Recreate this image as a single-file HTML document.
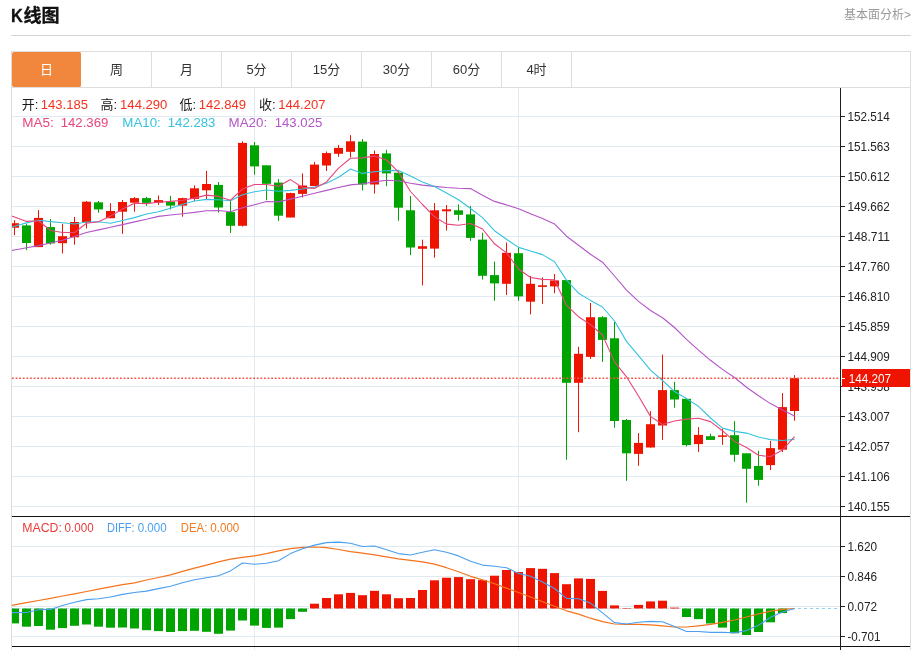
<!DOCTYPE html>
<html lang="zh-CN"><head><meta charset="utf-8"><title>K线图</title>
<style>
html,body{margin:0;padding:0;background:#fff;}
body{width:919px;height:650px;position:relative;overflow:hidden;font-family:"Liberation Sans","Noto Sans CJK SC",sans-serif;}
.title{position:absolute;left:11px;top:4px;font-size:18px;font-weight:bold;color:#111;-webkit-text-stroke:0.35px #111;line-height:24px;white-space:nowrap;}
.title b{display:inline-block;font-size:19px;width:12.4px;transform:scaleX(.86);transform-origin:0 50%;}
.more{position:absolute;right:8px;top:6px;font-size:12px;color:#999;line-height:18px;white-space:nowrap;}
.hr{position:absolute;left:11px;top:35px;width:900px;height:1px;background:#d4d4d4;}
.box{position:absolute;left:11px;top:51px;width:898px;height:620px;border:1px solid #ddd;}
.tabs{position:absolute;left:11px;top:87px;width:900px;height:1px;background:#ddd;}
.tab{position:absolute;top:52px;width:69px;height:35px;border-right:1px solid #ddd;text-align:center;line-height:35px;font-size:13px;color:#333;}
.tab.on{background:#f0873c;color:#fff;border-radius:2px;border-right-color:#fff;}
</style></head><body>
<div class="title"><b>K</b>线图</div>
<div class="more">基本面分析&gt;</div>
<div class="hr"></div>
<div class="box"></div>
<div class="tabs"></div>
<div class="tab on" style="left:12px">日</div><div class="tab" style="left:82px">周</div><div class="tab" style="left:152px">月</div><div class="tab" style="left:222px">5分</div><div class="tab" style="left:292px">15分</div><div class="tab" style="left:362px">30分</div><div class="tab" style="left:432px">60分</div><div class="tab" style="left:502px">4时</div>
<svg width="919" height="650" viewBox="0 0 919 650" style="position:absolute;left:0;top:0" font-family="'Liberation Sans','Noto Sans CJK SC',sans-serif">
<defs><clipPath id="cp"><rect x="12" y="88" width="828" height="562"/></clipPath></defs>
<line x1="12" y1="116.5" x2="840" y2="116.5" stroke="#dfeaf1" stroke-width="1"/>
<line x1="12" y1="146.5" x2="840" y2="146.5" stroke="#dfeaf1" stroke-width="1"/>
<line x1="12" y1="176.5" x2="840" y2="176.5" stroke="#dfeaf1" stroke-width="1"/>
<line x1="12" y1="206.5" x2="840" y2="206.5" stroke="#dfeaf1" stroke-width="1"/>
<line x1="12" y1="236.5" x2="840" y2="236.5" stroke="#dfeaf1" stroke-width="1"/>
<line x1="12" y1="266.5" x2="840" y2="266.5" stroke="#dfeaf1" stroke-width="1"/>
<line x1="12" y1="296.5" x2="840" y2="296.5" stroke="#dfeaf1" stroke-width="1"/>
<line x1="12" y1="326.5" x2="840" y2="326.5" stroke="#dfeaf1" stroke-width="1"/>
<line x1="12" y1="356.5" x2="840" y2="356.5" stroke="#dfeaf1" stroke-width="1"/>
<line x1="12" y1="386.5" x2="840" y2="386.5" stroke="#dfeaf1" stroke-width="1"/>
<line x1="12" y1="416.5" x2="840" y2="416.5" stroke="#dfeaf1" stroke-width="1"/>
<line x1="12" y1="446.5" x2="840" y2="446.5" stroke="#dfeaf1" stroke-width="1"/>
<line x1="12" y1="476.5" x2="840" y2="476.5" stroke="#dfeaf1" stroke-width="1"/>
<line x1="12" y1="506.5" x2="840" y2="506.5" stroke="#dfeaf1" stroke-width="1"/>
<line x1="12" y1="546.5" x2="840" y2="546.5" stroke="#dfeaf1" stroke-width="1"/>
<line x1="12" y1="576.5" x2="840" y2="576.5" stroke="#dfeaf1" stroke-width="1"/>
<line x1="12" y1="606.5" x2="840" y2="606.5" stroke="#dfeaf1" stroke-width="1"/>
<line x1="12" y1="636.5" x2="840" y2="636.5" stroke="#dfeaf1" stroke-width="1"/>
<line x1="254.5" y1="88" x2="254.5" y2="650" stroke="#dfeaf1" stroke-width="1"/>
<line x1="518.5" y1="88" x2="518.5" y2="650" stroke="#dfeaf1" stroke-width="1"/>
<g clip-path="url(#cp)">
<rect x="14.0" y="220.2" width="1" height="15.0" fill="#ee1400"/>
<rect x="10.0" y="223.2" width="9" height="4.5" fill="#ee1400"/>
<rect x="26.0" y="223.8" width="1" height="26.3" fill="#00a400"/>
<rect x="22.0" y="225.4" width="9" height="17.6" fill="#00a400"/>
<rect x="38.0" y="210.1" width="1" height="37.0" fill="#ee1400"/>
<rect x="34.0" y="217.9" width="9" height="29.2" fill="#ee1400"/>
<rect x="50.0" y="219.0" width="1" height="25.7" fill="#00a400"/>
<rect x="46.0" y="227.1" width="9" height="16.3" fill="#00a400"/>
<rect x="62.0" y="223.8" width="1" height="29.6" fill="#ee1400"/>
<rect x="58.0" y="236.2" width="9" height="7.0" fill="#ee1400"/>
<rect x="74.0" y="216.9" width="1" height="27.8" fill="#ee1400"/>
<rect x="70.0" y="222.0" width="9" height="15.3" fill="#ee1400"/>
<rect x="86.0" y="201.0" width="1" height="27.4" fill="#ee1400"/>
<rect x="82.0" y="201.7" width="9" height="20.8" fill="#ee1400"/>
<rect x="98.0" y="201.0" width="1" height="11.7" fill="#00a400"/>
<rect x="94.0" y="202.3" width="9" height="7.1" fill="#00a400"/>
<rect x="110.0" y="203.2" width="1" height="15.0" fill="#ee1400"/>
<rect x="106.0" y="211.0" width="9" height="7.2" fill="#ee1400"/>
<rect x="122.0" y="200.0" width="1" height="33.9" fill="#ee1400"/>
<rect x="118.0" y="202.0" width="9" height="9.7" fill="#ee1400"/>
<rect x="134.0" y="197.1" width="1" height="14.6" fill="#ee1400"/>
<rect x="130.0" y="198.1" width="9" height="4.6" fill="#ee1400"/>
<rect x="146.0" y="196.8" width="1" height="9.1" fill="#00a400"/>
<rect x="142.0" y="198.1" width="9" height="4.8" fill="#00a400"/>
<rect x="158.0" y="195.4" width="1" height="9.5" fill="#ee1400"/>
<rect x="154.0" y="200.1" width="9" height="2.6" fill="#ee1400"/>
<rect x="170.0" y="195.8" width="1" height="13.7" fill="#00a400"/>
<rect x="166.0" y="201.6" width="9" height="4.0" fill="#00a400"/>
<rect x="182.0" y="197.7" width="1" height="19.0" fill="#ee1400"/>
<rect x="178.0" y="198.1" width="9" height="7.5" fill="#ee1400"/>
<rect x="194.0" y="185.3" width="1" height="15.7" fill="#ee1400"/>
<rect x="190.0" y="188.3" width="9" height="10.7" fill="#ee1400"/>
<rect x="206.0" y="170.9" width="1" height="28.1" fill="#ee1400"/>
<rect x="202.0" y="184.0" width="9" height="6.3" fill="#ee1400"/>
<rect x="218.0" y="182.0" width="1" height="30.5" fill="#00a400"/>
<rect x="214.0" y="184.9" width="9" height="22.6" fill="#00a400"/>
<rect x="230.0" y="201.0" width="1" height="32.0" fill="#00a400"/>
<rect x="226.0" y="212.1" width="9" height="13.7" fill="#00a400"/>
<rect x="242.0" y="141.3" width="1" height="85.2" fill="#ee1400"/>
<rect x="238.0" y="142.9" width="9" height="82.9" fill="#ee1400"/>
<rect x="254.0" y="142.0" width="1" height="32.7" fill="#00a400"/>
<rect x="250.0" y="145.3" width="9" height="21.1" fill="#00a400"/>
<rect x="266.0" y="165.3" width="1" height="34.9" fill="#00a400"/>
<rect x="262.0" y="165.3" width="9" height="18.5" fill="#00a400"/>
<rect x="278.0" y="179.0" width="1" height="41.9" fill="#00a400"/>
<rect x="274.0" y="182.6" width="9" height="33.1" fill="#00a400"/>
<rect x="290.0" y="192.7" width="1" height="24.8" fill="#ee1400"/>
<rect x="286.0" y="193.1" width="9" height="24.4" fill="#ee1400"/>
<rect x="302.0" y="173.4" width="1" height="24.1" fill="#ee1400"/>
<rect x="298.0" y="185.5" width="9" height="8.4" fill="#ee1400"/>
<rect x="314.0" y="162.0" width="1" height="24.0" fill="#ee1400"/>
<rect x="310.0" y="164.6" width="9" height="21.4" fill="#ee1400"/>
<rect x="326.0" y="151.5" width="1" height="19.5" fill="#ee1400"/>
<rect x="322.0" y="153.1" width="9" height="12.4" fill="#ee1400"/>
<rect x="338.0" y="144.9" width="1" height="11.9" fill="#ee1400"/>
<rect x="334.0" y="147.9" width="9" height="5.9" fill="#ee1400"/>
<rect x="350.0" y="135.1" width="1" height="22.3" fill="#ee1400"/>
<rect x="346.0" y="141.3" width="9" height="10.5" fill="#ee1400"/>
<rect x="362.0" y="139.0" width="1" height="51.4" fill="#00a400"/>
<rect x="358.0" y="141.6" width="9" height="42.9" fill="#00a400"/>
<rect x="374.0" y="150.5" width="1" height="43.1" fill="#ee1400"/>
<rect x="370.0" y="154.0" width="9" height="30.5" fill="#ee1400"/>
<rect x="386.0" y="149.8" width="1" height="36.4" fill="#00a400"/>
<rect x="382.0" y="153.4" width="9" height="20.0" fill="#00a400"/>
<rect x="398.0" y="170.1" width="1" height="50.6" fill="#00a400"/>
<rect x="394.0" y="172.7" width="9" height="35.0" fill="#00a400"/>
<rect x="410.0" y="195.9" width="1" height="59.2" fill="#00a400"/>
<rect x="406.0" y="210.3" width="9" height="37.2" fill="#00a400"/>
<rect x="422.0" y="239.7" width="1" height="45.7" fill="#ee1400"/>
<rect x="418.0" y="246.2" width="9" height="2.6" fill="#ee1400"/>
<rect x="434.0" y="203.1" width="1" height="54.6" fill="#ee1400"/>
<rect x="430.0" y="210.3" width="9" height="38.3" fill="#ee1400"/>
<rect x="446.0" y="205.0" width="1" height="25.5" fill="#ee1400"/>
<rect x="442.0" y="209.3" width="9" height="2.0" fill="#ee1400"/>
<rect x="458.0" y="204.4" width="1" height="16.3" fill="#00a400"/>
<rect x="454.0" y="210.3" width="9" height="4.5" fill="#00a400"/>
<rect x="470.0" y="205.9" width="1" height="35.0" fill="#00a400"/>
<rect x="466.0" y="214.4" width="9" height="23.5" fill="#00a400"/>
<rect x="482.0" y="232.7" width="1" height="46.8" fill="#00a400"/>
<rect x="478.0" y="239.6" width="9" height="36.2" fill="#00a400"/>
<rect x="494.0" y="261.6" width="1" height="39.2" fill="#00a400"/>
<rect x="490.0" y="275.1" width="9" height="8.3" fill="#00a400"/>
<rect x="506.0" y="242.5" width="1" height="52.4" fill="#ee1400"/>
<rect x="502.0" y="252.8" width="9" height="31.0" fill="#ee1400"/>
<rect x="518.0" y="247.5" width="1" height="53.3" fill="#00a400"/>
<rect x="514.0" y="253.2" width="9" height="43.2" fill="#00a400"/>
<rect x="530.0" y="275.9" width="1" height="38.4" fill="#ee1400"/>
<rect x="526.0" y="283.8" width="9" height="17.9" fill="#ee1400"/>
<rect x="542.0" y="277.5" width="1" height="26.4" fill="#ee1400"/>
<rect x="538.0" y="285.3" width="9" height="1.6" fill="#ee1400"/>
<rect x="554.0" y="274.0" width="1" height="19.2" fill="#ee1400"/>
<rect x="550.0" y="280.4" width="9" height="6.0" fill="#ee1400"/>
<rect x="566.0" y="280.1" width="1" height="179.6" fill="#00a400"/>
<rect x="562.0" y="280.1" width="9" height="102.7" fill="#00a400"/>
<rect x="578.0" y="346.8" width="1" height="85.4" fill="#ee1400"/>
<rect x="574.0" y="353.8" width="9" height="29.0" fill="#ee1400"/>
<rect x="590.0" y="303.0" width="1" height="55.9" fill="#ee1400"/>
<rect x="586.0" y="317.2" width="9" height="39.7" fill="#ee1400"/>
<rect x="602.0" y="316.1" width="1" height="45.8" fill="#00a400"/>
<rect x="598.0" y="317.2" width="9" height="22.7" fill="#00a400"/>
<rect x="614.0" y="322.0" width="1" height="105.7" fill="#00a400"/>
<rect x="610.0" y="338.3" width="9" height="82.7" fill="#00a400"/>
<rect x="626.0" y="419.0" width="1" height="61.8" fill="#00a400"/>
<rect x="622.0" y="420.0" width="9" height="33.3" fill="#00a400"/>
<rect x="638.0" y="433.1" width="1" height="32.7" fill="#ee1400"/>
<rect x="634.0" y="442.9" width="9" height="11.0" fill="#ee1400"/>
<rect x="650.0" y="411.1" width="1" height="36.4" fill="#ee1400"/>
<rect x="646.0" y="424.2" width="9" height="23.3" fill="#ee1400"/>
<rect x="662.0" y="354.6" width="1" height="85.3" fill="#ee1400"/>
<rect x="658.0" y="390.1" width="9" height="35.4" fill="#ee1400"/>
<rect x="674.0" y="381.8" width="1" height="25.9" fill="#00a400"/>
<rect x="670.0" y="390.1" width="9" height="9.4" fill="#00a400"/>
<rect x="686.0" y="398.8" width="1" height="47.6" fill="#00a400"/>
<rect x="682.0" y="398.8" width="9" height="46.3" fill="#00a400"/>
<rect x="698.0" y="427.1" width="1" height="24.8" fill="#ee1400"/>
<rect x="694.0" y="434.9" width="9" height="9.2" fill="#ee1400"/>
<rect x="710.0" y="433.7" width="1" height="6.3" fill="#00a400"/>
<rect x="706.0" y="436.2" width="9" height="3.7" fill="#00a400"/>
<rect x="722.0" y="429.0" width="1" height="15.8" fill="#ee1400"/>
<rect x="718.0" y="435.35" width="9" height="1.5" fill="#ee1400"/>
<rect x="734.0" y="421.1" width="1" height="40.7" fill="#00a400"/>
<rect x="730.0" y="435.2" width="9" height="19.6" fill="#00a400"/>
<rect x="746.0" y="453.3" width="1" height="49.4" fill="#00a400"/>
<rect x="742.0" y="453.3" width="9" height="15.5" fill="#00a400"/>
<rect x="758.0" y="450.7" width="1" height="35.1" fill="#00a400"/>
<rect x="754.0" y="466.0" width="9" height="13.9" fill="#00a400"/>
<rect x="770.0" y="440.9" width="1" height="29.2" fill="#ee1400"/>
<rect x="766.0" y="448.1" width="9" height="17.0" fill="#ee1400"/>
<rect x="782.0" y="393.1" width="1" height="58.9" fill="#ee1400"/>
<rect x="778.0" y="407.1" width="9" height="42.6" fill="#ee1400"/>
<rect x="794.0" y="375.1" width="1" height="45.7" fill="#ee1400"/>
<rect x="790.0" y="378.1" width="9" height="32.9" fill="#ee1400"/>
<line x1="12" y1="608.5" x2="798" y2="608.5" stroke="#bfe4f4" stroke-width="1" stroke-dasharray="3,3"/>
<line x1="798" y1="608.5" x2="838" y2="608.5" stroke="#8fd2ee" stroke-width="1" stroke-dasharray="3,3"/>
<rect x="10.0" y="608.5" width="9" height="14.9" fill="#00a400"/>
<rect x="22.0" y="608.5" width="9" height="18.2" fill="#00a400"/>
<rect x="34.0" y="608.5" width="9" height="17.5" fill="#00a400"/>
<rect x="46.0" y="608.5" width="9" height="21.2" fill="#00a400"/>
<rect x="58.0" y="608.5" width="9" height="19.6" fill="#00a400"/>
<rect x="70.0" y="608.5" width="9" height="17.3" fill="#00a400"/>
<rect x="82.0" y="608.5" width="9" height="16.0" fill="#00a400"/>
<rect x="94.0" y="608.5" width="9" height="18.2" fill="#00a400"/>
<rect x="106.0" y="608.5" width="9" height="19.2" fill="#00a400"/>
<rect x="118.0" y="608.5" width="9" height="19.0" fill="#00a400"/>
<rect x="130.0" y="608.5" width="9" height="20.0" fill="#00a400"/>
<rect x="142.0" y="608.5" width="9" height="21.7" fill="#00a400"/>
<rect x="154.0" y="608.5" width="9" height="22.6" fill="#00a400"/>
<rect x="166.0" y="608.5" width="9" height="23.5" fill="#00a400"/>
<rect x="178.0" y="608.5" width="9" height="22.6" fill="#00a400"/>
<rect x="190.0" y="608.5" width="9" height="22.3" fill="#00a400"/>
<rect x="202.0" y="608.5" width="9" height="23.3" fill="#00a400"/>
<rect x="214.0" y="608.5" width="9" height="25.3" fill="#00a400"/>
<rect x="226.0" y="608.5" width="9" height="22.1" fill="#00a400"/>
<rect x="238.0" y="608.5" width="9" height="12.0" fill="#00a400"/>
<rect x="250.0" y="608.5" width="9" height="17.1" fill="#00a400"/>
<rect x="262.0" y="608.5" width="9" height="19.4" fill="#00a400"/>
<rect x="274.0" y="608.5" width="9" height="19.1" fill="#00a400"/>
<rect x="286.0" y="608.5" width="9" height="10.6" fill="#00a400"/>
<rect x="298.0" y="608.5" width="9" height="3.3" fill="#00a400"/>
<rect x="310.0" y="603.7" width="9" height="4.8" fill="#ee1400"/>
<rect x="322.0" y="598" width="9" height="10.5" fill="#ee1400"/>
<rect x="334.0" y="594.3" width="9" height="14.2" fill="#ee1400"/>
<rect x="346.0" y="592.9" width="9" height="15.6" fill="#ee1400"/>
<rect x="358.0" y="595.2" width="9" height="13.3" fill="#ee1400"/>
<rect x="370.0" y="590.8" width="9" height="17.7" fill="#ee1400"/>
<rect x="382.0" y="594.3" width="9" height="14.2" fill="#ee1400"/>
<rect x="394.0" y="598.2" width="9" height="10.3" fill="#ee1400"/>
<rect x="406.0" y="598" width="9" height="10.5" fill="#ee1400"/>
<rect x="418.0" y="590" width="9" height="18.5" fill="#ee1400"/>
<rect x="430.0" y="580.3" width="9" height="28.2" fill="#ee1400"/>
<rect x="442.0" y="577.7" width="9" height="30.8" fill="#ee1400"/>
<rect x="454.0" y="577.1" width="9" height="31.4" fill="#ee1400"/>
<rect x="466.0" y="579.2" width="9" height="29.3" fill="#ee1400"/>
<rect x="478.0" y="580.1" width="9" height="28.4" fill="#ee1400"/>
<rect x="490.0" y="575.7" width="9" height="32.8" fill="#ee1400"/>
<rect x="502.0" y="570" width="9" height="38.5" fill="#ee1400"/>
<rect x="514.0" y="572" width="9" height="36.5" fill="#ee1400"/>
<rect x="526.0" y="568.1" width="9" height="40.4" fill="#ee1400"/>
<rect x="538.0" y="568.8" width="9" height="39.7" fill="#ee1400"/>
<rect x="550.0" y="573.1" width="9" height="35.4" fill="#ee1400"/>
<rect x="562.0" y="584.2" width="9" height="24.3" fill="#ee1400"/>
<rect x="574.0" y="578.4" width="9" height="30.1" fill="#ee1400"/>
<rect x="586.0" y="578.9" width="9" height="29.6" fill="#ee1400"/>
<rect x="598.0" y="590.9" width="9" height="17.6" fill="#ee1400"/>
<rect x="610.0" y="605.4" width="9" height="3.1" fill="#ee1400"/>
<rect x="622.0" y="608.0" width="9" height="0.5" fill="#ee1400"/>
<rect x="634.0" y="604.9" width="9" height="3.6" fill="#ee1400"/>
<rect x="646.0" y="601.4" width="9" height="7.1" fill="#ee1400"/>
<rect x="658.0" y="600.7" width="9" height="7.8" fill="#ee1400"/>
<rect x="670.0" y="607.6" width="9" height="0.9" fill="#ee1400"/>
<rect x="682.0" y="608.5" width="9" height="8.5" fill="#00a400"/>
<rect x="694.0" y="608.5" width="9" height="10.6" fill="#00a400"/>
<rect x="706.0" y="608.5" width="9" height="15.0" fill="#00a400"/>
<rect x="718.0" y="608.5" width="9" height="19.1" fill="#00a400"/>
<rect x="730.0" y="608.5" width="9" height="24.8" fill="#00a400"/>
<rect x="742.0" y="608.5" width="9" height="26.5" fill="#00a400"/>
<rect x="754.0" y="608.5" width="9" height="23.5" fill="#00a400"/>
<rect x="766.0" y="608.5" width="9" height="13.8" fill="#00a400"/>
<rect x="778.0" y="608.5" width="9" height="4.6" fill="#00a400"/>
<polyline points="2.5,252 14.5,250 26.5,247.8 38.5,245.6 50.5,243 62.5,240.3 74.5,236.4 86.5,232.5 98.5,229.9 110.5,227.2 122.5,224.6 134.5,221.9 146.5,219.3 158.5,216.4 170.5,215 182.5,213.7 194.5,212.4 206.5,210.8 218.5,210.5 230.5,211.7 242.5,207.8 254.5,204.7 266.5,201.5 278.5,201.9 290.5,199.1 302.5,196.2 314.5,193.2 326.5,190.4 338.5,187.5 350.5,184.9 362.5,183.8 374.5,181.9 386.5,180.3 398.5,180.8 410.5,183.2 422.5,185.1 434.5,186.4 446.5,187.5 458.5,188.2 470.5,188.6 482.5,195.2 494.5,201.4 506.5,204.9 518.5,208.8 530.5,213.8 542.5,218.6 554.5,223.9 566.5,236.2 578.5,245.2 590.5,254.3 602.5,262.2 614.5,276 626.5,290.1 638.5,301.4 650.5,310.5 662.5,317.7 674.5,327.5 686.5,339.3 698.5,350.1 710.5,360.3 722.5,369.4 734.5,377.5 746.5,387.3 758.5,395.8 770.5,403.6 782.5,410.1 794.5,415.9" fill="none" stroke="#b455c8" stroke-width="1.1" stroke-linejoin="round"/>
<polyline points="2.5,230 14.5,226.2 26.5,222.9 38.5,220.3 50.5,221.6 62.5,222.7 74.5,224 86.5,222 98.5,221.8 110.5,223.3 122.5,220.5 134.5,217.6 146.5,214 158.5,211.8 170.5,208.2 182.5,204.2 194.5,201 206.5,199.4 218.5,199.7 230.5,200.8 242.5,194.7 254.5,191.7 266.5,190 278.5,191.3 290.5,190.4 302.5,189 314.5,187.1 326.5,183.2 338.5,177.3 350.5,169 362.5,173.4 374.5,171.7 386.5,170.8 398.5,170.4 410.5,176 422.5,181.9 434.5,186.4 446.5,193 458.5,199.8 470.5,208.5 482.5,217.6 494.5,230.7 506.5,239.2 518.5,247.4 530.5,251 542.5,254.6 554.5,261.8 566.5,280.1 578.5,293.2 590.5,300.4 602.5,307 614.5,321 626.5,341.4 638.5,355.7 650.5,370.1 662.5,380.5 674.5,391.6 686.5,398.6 698.5,406.3 710.5,418 722.5,428.1 734.5,431.4 746.5,433.1 758.5,437 770.5,439.6 782.5,440.5 794.5,439.4" fill="none" stroke="#35c3de" stroke-width="1.1" stroke-linejoin="round"/>
<polyline points="2.5,212.6 14.5,217 26.5,221.4 38.5,220.7 50.5,230.5 62.5,232.5 74.5,232.5 86.5,223.3 98.5,221.8 110.5,216.1 122.5,209 134.5,203.3 146.5,203.6 158.5,202.3 170.5,201.4 182.5,200.3 194.5,198.1 206.5,195.1 218.5,196.4 230.5,200.2 242.5,189 254.5,184.5 266.5,184.5 278.5,186.2 290.5,179.6 302.5,187.5 314.5,188.4 326.5,181.9 338.5,168.1 350.5,158.3 362.5,157.9 374.5,156.1 386.5,160 398.5,172.1 410.5,191.5 422.5,204.5 434.5,216.8 446.5,224.1 458.5,225.2 470.5,223.5 482.5,229 494.5,243.8 506.5,252.9 518.5,269 530.5,277.5 542.5,279.4 554.5,279.8 566.5,305.3 578.5,316.7 590.5,324.6 602.5,335 614.5,361.9 626.5,376.8 638.5,396 650.5,416.4 662.5,424.5 674.5,421 686.5,419.1 698.5,418.3 710.5,421.6 722.5,430.7 734.5,441.4 746.5,447.5 758.5,455.3 770.5,456.6 782.5,450.1 794.5,436.6" fill="none" stroke="#e8457c" stroke-width="1.1" stroke-linejoin="round"/>
<polyline points="2.5,607.1 14.5,604.9 26.5,602.7 38.5,600.5 50.5,598.3 62.5,596 74.5,593.8 86.5,591.5 98.5,589.2 110.5,586.9 122.5,584.6 134.5,582.8 146.5,580 158.5,577.5 170.5,574.8 182.5,571.3 194.5,568.1 206.5,565.1 218.5,561.9 230.5,559.2 242.5,557.3 254.5,555.9 266.5,553.6 278.5,550.9 290.5,548.6 302.5,547.4 314.5,547 326.5,547.7 338.5,549.5 350.5,551.6 362.5,553.2 374.5,554.8 386.5,556.8 398.5,558.9 410.5,560.3 422.5,561.9 434.5,564.2 446.5,567.7 458.5,571.8 470.5,576.3 482.5,579.8 494.5,583.7 506.5,588.1 518.5,592.5 530.5,597 542.5,601.7 554.5,606.2 566.5,610.8 578.5,614.1 590.5,618.2 602.5,621.7 614.5,624 626.5,624.4 638.5,624.4 650.5,624.9 662.5,625.8 674.5,627 686.5,627 698.5,625.8 710.5,624.4 722.5,622.3 734.5,620 746.5,617 758.5,613.8 770.5,611.1 782.5,609.4 794.5,608.5" fill="none" stroke="#f4731c" stroke-width="1.2" stroke-linejoin="round"/>
<polyline points="2.5,612.7 14.5,612.6 26.5,612.5 38.5,609.8 50.5,609.4 62.5,605.5 74.5,602.3 86.5,599.6 98.5,598.7 110.5,597 122.5,594.4 134.5,592.5 146.5,591.1 158.5,588.6 170.5,586.3 182.5,582.8 194.5,579.8 206.5,577.7 218.5,575.7 230.5,570.9 242.5,563 254.5,564.2 266.5,563.3 278.5,560.7 290.5,553.6 302.5,548.8 314.5,545.1 326.5,542.6 338.5,542.1 350.5,543.3 362.5,546.5 374.5,546 386.5,549.7 398.5,553.6 410.5,555 422.5,552.3 434.5,549.7 446.5,552.2 458.5,555.9 470.5,561.3 482.5,565.1 494.5,566.3 506.5,567.7 518.5,573.4 530.5,576.2 542.5,581.9 554.5,588.5 566.5,598.4 578.5,598.8 590.5,603.1 602.5,612.9 614.5,622.6 626.5,624 638.5,622.3 650.5,621.4 662.5,621.7 674.5,626.5 686.5,631.5 698.5,631.5 710.5,632.4 722.5,632.4 734.5,632.7 746.5,630.6 758.5,625.3 770.5,617.3 782.5,612 794.5,608.5" fill="none" stroke="#4a9ff0" stroke-width="1.1" stroke-linejoin="round"/>
</g>
<line x1="12" y1="378.2" x2="839" y2="378.2" stroke="#f2554a" stroke-width="1.4" stroke-dasharray="1.8,1.8"/>
<line x1="12" y1="516.5" x2="910" y2="516.5" stroke="#111" stroke-width="1"/>
<line x1="12" y1="646.5" x2="910" y2="646.5" stroke="#111" stroke-width="1"/>
<line x1="840.5" y1="88" x2="840.5" y2="650" stroke="#1c1c1c" stroke-width="1"/>
<line x1="841" y1="116.5" x2="845" y2="116.5" stroke="#222" stroke-width="1"/>
<text x="847.5" y="120.9" font-size="13" fill="#222" textLength="42.4" lengthAdjust="spacingAndGlyphs">152.514</text>
<line x1="841" y1="146.5" x2="845" y2="146.5" stroke="#222" stroke-width="1"/>
<text x="847.5" y="150.9" font-size="13" fill="#222" textLength="42.4" lengthAdjust="spacingAndGlyphs">151.563</text>
<line x1="841" y1="176.5" x2="845" y2="176.5" stroke="#222" stroke-width="1"/>
<text x="847.5" y="180.9" font-size="13" fill="#222" textLength="42.4" lengthAdjust="spacingAndGlyphs">150.612</text>
<line x1="841" y1="206.5" x2="845" y2="206.5" stroke="#222" stroke-width="1"/>
<text x="847.5" y="210.9" font-size="13" fill="#222" textLength="42.4" lengthAdjust="spacingAndGlyphs">149.662</text>
<line x1="841" y1="236.5" x2="845" y2="236.5" stroke="#222" stroke-width="1"/>
<text x="847.5" y="240.9" font-size="13" fill="#222" textLength="42.4" lengthAdjust="spacingAndGlyphs">148.711</text>
<line x1="841" y1="266.5" x2="845" y2="266.5" stroke="#222" stroke-width="1"/>
<text x="847.5" y="270.9" font-size="13" fill="#222" textLength="42.4" lengthAdjust="spacingAndGlyphs">147.760</text>
<line x1="841" y1="296.5" x2="845" y2="296.5" stroke="#222" stroke-width="1"/>
<text x="847.5" y="300.9" font-size="13" fill="#222" textLength="42.4" lengthAdjust="spacingAndGlyphs">146.810</text>
<line x1="841" y1="326.5" x2="845" y2="326.5" stroke="#222" stroke-width="1"/>
<text x="847.5" y="330.9" font-size="13" fill="#222" textLength="42.4" lengthAdjust="spacingAndGlyphs">145.859</text>
<line x1="841" y1="356.5" x2="845" y2="356.5" stroke="#222" stroke-width="1"/>
<text x="847.5" y="360.9" font-size="13" fill="#222" textLength="42.4" lengthAdjust="spacingAndGlyphs">144.909</text>
<line x1="841" y1="386.5" x2="845" y2="386.5" stroke="#222" stroke-width="1"/>
<text x="847.5" y="390.9" font-size="13" fill="#222" textLength="42.4" lengthAdjust="spacingAndGlyphs">143.958</text>
<line x1="841" y1="416.5" x2="845" y2="416.5" stroke="#222" stroke-width="1"/>
<text x="847.5" y="420.9" font-size="13" fill="#222" textLength="42.4" lengthAdjust="spacingAndGlyphs">143.007</text>
<line x1="841" y1="446.5" x2="845" y2="446.5" stroke="#222" stroke-width="1"/>
<text x="847.5" y="450.9" font-size="13" fill="#222" textLength="42.4" lengthAdjust="spacingAndGlyphs">142.057</text>
<line x1="841" y1="476.5" x2="845" y2="476.5" stroke="#222" stroke-width="1"/>
<text x="847.5" y="480.9" font-size="13" fill="#222" textLength="42.4" lengthAdjust="spacingAndGlyphs">141.106</text>
<line x1="841" y1="506.5" x2="845" y2="506.5" stroke="#222" stroke-width="1"/>
<text x="847.5" y="510.9" font-size="13" fill="#222" textLength="42.4" lengthAdjust="spacingAndGlyphs">140.155</text>
<line x1="841" y1="546.5" x2="845" y2="546.5" stroke="#222" stroke-width="1"/>
<text x="847.5" y="550.9" font-size="13" fill="#222" textLength="29.5" lengthAdjust="spacingAndGlyphs">1.620</text>
<line x1="841" y1="576.5" x2="845" y2="576.5" stroke="#222" stroke-width="1"/>
<text x="847.5" y="580.9" font-size="13" fill="#222" textLength="29.5" lengthAdjust="spacingAndGlyphs">0.846</text>
<line x1="841" y1="606.5" x2="845" y2="606.5" stroke="#222" stroke-width="1"/>
<text x="847.5" y="610.9" font-size="13" fill="#222" textLength="29.5" lengthAdjust="spacingAndGlyphs">0.072</text>
<line x1="841" y1="636.5" x2="845" y2="636.5" stroke="#222" stroke-width="1"/>
<text x="847.5" y="640.9" font-size="13" fill="#222" textLength="33" lengthAdjust="spacingAndGlyphs">-0.701</text>
<rect x="842" y="369" width="68" height="18" fill="#ee1400"/>
<line x1="842" y1="378.5" x2="845" y2="378.5" stroke="#fff" stroke-width="1"/>
<text x="848.7" y="382.9" font-size="13" fill="#fff" textLength="42.4" lengthAdjust="spacingAndGlyphs">144.207</text>
<text x="21.8" y="108.7" font-size="13" fill="#1a1a1a">开:</text>
<text x="40.8" y="108.7" font-size="13.5" fill="#f5321e" textLength="47.3" lengthAdjust="spacingAndGlyphs">143.185</text>
<text x="100.6" y="108.7" font-size="13" fill="#1a1a1a">高:</text>
<text x="120.1" y="108.7" font-size="13.5" fill="#f5321e" textLength="47.3" lengthAdjust="spacingAndGlyphs">144.290</text>
<text x="179.6" y="108.7" font-size="13" fill="#1a1a1a">低:</text>
<text x="198.7" y="108.7" font-size="13.5" fill="#f5321e" textLength="47.3" lengthAdjust="spacingAndGlyphs">142.849</text>
<text x="259" y="108.7" font-size="13" fill="#1a1a1a">收:</text>
<text x="278.3" y="108.7" font-size="13.5" fill="#f5321e" textLength="47.3" lengthAdjust="spacingAndGlyphs">144.207</text>
<text x="22.2" y="126.8" font-size="12.2" fill="#e8457c" textLength="31.5" lengthAdjust="spacingAndGlyphs">MA5:</text>
<text x="60.7" y="126.8" font-size="12.2" fill="#e8457c" textLength="47.6" lengthAdjust="spacingAndGlyphs">142.369</text>
<text x="122.3" y="126.8" font-size="12.2" fill="#35c3de" textLength="38.5" lengthAdjust="spacingAndGlyphs">MA10:</text>
<text x="167.8" y="126.8" font-size="12.2" fill="#35c3de" textLength="47.6" lengthAdjust="spacingAndGlyphs">142.283</text>
<text x="228.6" y="126.8" font-size="12.2" fill="#b455c8" textLength="38.5" lengthAdjust="spacingAndGlyphs">MA20:</text>
<text x="274.7" y="126.8" font-size="12.2" fill="#b455c8" textLength="47.6" lengthAdjust="spacingAndGlyphs">143.025</text>
<text x="22.3" y="532" font-size="12" fill="#ea3a3a" textLength="39.5" lengthAdjust="spacingAndGlyphs">MACD:</text>
<text x="64.6" y="532" font-size="12" fill="#ea3a3a" textLength="29" lengthAdjust="spacingAndGlyphs">0.000</text>
<text x="106.9" y="532" font-size="12" fill="#4a9ff0" textLength="27.7" lengthAdjust="spacingAndGlyphs">DIFF:</text>
<text x="137.7" y="532" font-size="12" fill="#4a9ff0" textLength="29" lengthAdjust="spacingAndGlyphs">0.000</text>
<text x="180.8" y="532" font-size="12" fill="#f27a20" textLength="26.6" lengthAdjust="spacingAndGlyphs">DEA:</text>
<text x="210.3" y="532" font-size="12" fill="#f27a20" textLength="29" lengthAdjust="spacingAndGlyphs">0.000</text>
</svg>
</body></html>
